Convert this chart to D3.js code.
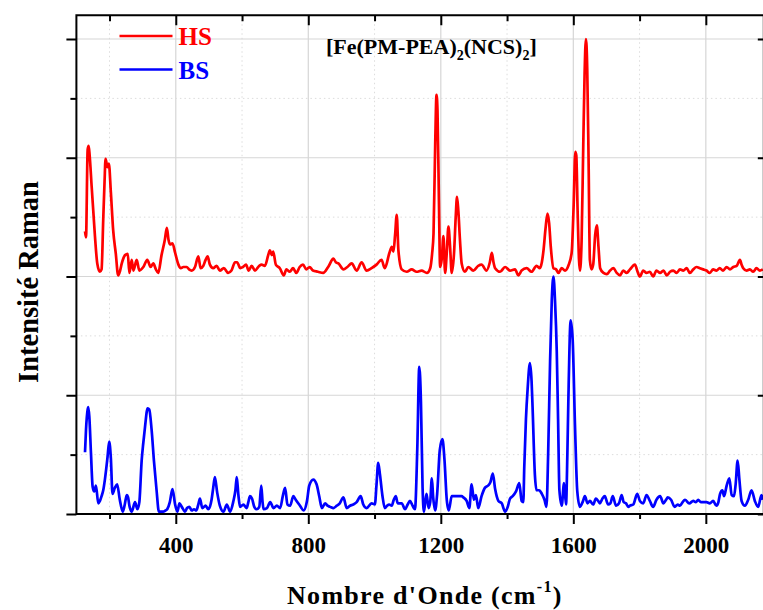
<!DOCTYPE html>
<html>
<head>
<meta charset="utf-8">
<script src="https://cdn.jsdelivr.net/npm/d3@7"></script>
<style>
  html, body { margin: 0; padding: 0; background: #fff; }
  svg { display: block; font-family: "Liberation Serif", "Times New Roman", serif; }
</style>
</head>
<body>
<svg id="chart" width="763" height="610"></svg>
<script>
// ---------------- data ----------------
const hsWave = [126,129,134,137,140,146,151,156,163,171,176,181,185,188,194,198,204,211,219,226,232,237,247,255,260,267,272,282,290,302,314,324,332,340,347,357,367,373,378,383,390,398,408,415,423,433,440,448,458,468,475,483,490,496,503,513,523,533,545,558,568,579,585,595,603,612,620,629,639,652,659,669,679,684,690,694,702,714,726,734,744,754,764,774,784,794,804,814,829,845,860,876,883,891,906,918,931,946,961,976,991,1006,1021,1031,1045,1052,1057,1062,1067,1072,1082,1097,1112,1127,1142,1158,1168,1174,1178,1183,1187,1190,1194,1198,1203,1208,1213,1218,1223,1228,1233,1240,1245,1249,1253,1258,1263,1273,1283,1298,1313,1323,1338,1348,1354,1359,1364,1379,1394,1409,1424,1434,1444,1459,1474,1489,1499,1505,1510,1516,1522,1527,1532,1540,1548,1555,1565,1575,1585,1595,1601,1606,1609,1613,1617,1620,1625,1630,1634,1638,1642,1646,1650,1655,1660,1666,1671,1676,1681,1691,1701,1711,1721,1731,1741,1751,1761,1771,1786,1794,1801,1811,1821,1831,1841,1851,1862,1872,1882,1892,1902,1912,1922,1932,1942,1952,1962,1972,1982,1992,2002,2012,2022,2032,2042,2052,2063,2073,2083,2093,2103,2108,2113,2123,2133,2143,2153,2163,2172];
const hsInt = [2.38,2.33,3.07,3.10,3.02,2.76,2.55,2.34,2.11,2.04,2.06,2.48,2.80,2.99,2.92,2.95,2.71,2.39,2.19,2.01,2.05,2.11,2.18,2.19,2.03,2.14,2.05,2.14,2.05,2.08,2.14,2.08,2.11,2.06,2.03,2.18,2.31,2.41,2.31,2.27,2.28,2.20,2.10,2.07,2.08,2.08,2.06,2.05,2.08,2.17,2.07,2.09,2.14,2.17,2.10,2.07,2.09,2.05,2.07,2.03,2.05,2.12,2.12,2.07,2.08,2.10,2.05,2.09,2.05,2.09,2.10,2.09,2.18,2.22,2.18,2.21,2.10,2.07,2.01,2.06,2.04,2.07,2.03,2.08,2.10,2.06,2.08,2.05,2.04,2.03,2.08,2.15,2.12,2.11,2.06,2.08,2.11,2.05,2.12,2.05,2.07,2.10,2.14,2.07,2.20,2.25,2.21,2.35,2.52,2.22,2.06,2.04,2.06,2.04,2.05,2.03,2.07,2.20,2.36,3.10,3.53,3.40,2.70,2.08,2.15,2.34,2.03,2.20,2.42,2.25,2.03,2.20,2.50,2.67,2.55,2.30,2.11,2.04,2.08,2.05,2.09,2.10,2.05,2.12,2.20,2.12,2.07,2.04,2.08,2.05,2.06,2.01,2.05,2.07,2.04,2.09,2.07,2.12,2.22,2.40,2.53,2.45,2.25,2.07,2.06,2.03,2.07,2.05,2.09,2.20,2.60,3.05,3.02,2.55,2.15,2.05,2.30,3.10,3.70,4.00,3.75,3.00,2.14,2.06,2.10,2.35,2.43,2.25,2.07,2.03,2.02,2.05,2.07,2.03,2.01,2.05,2.03,2.06,2.10,2.04,2.00,2.05,2.03,2.04,2.00,2.05,2.03,2.05,2.01,2.04,2.05,2.03,2.06,2.05,2.07,2.03,2.06,2.08,2.07,2.06,2.05,2.03,2.06,2.05,2.07,2.05,2.08,2.06,2.08,2.09,2.14,2.10,2.07,2.05,2.06,2.04,2.07,2.05,2.06];

const bsWave = [126,129,134,136,139,144,149,154,159,166,171,176,181,186,190,194,199,204,209,216,223,231,240,246,252,256,260,267,277,284,290,297,302,307,315,320,327,334,342,349,356,362,369,374,382,390,398,405,411,418,428,434,441,448,455,462,468,473,480,490,498,508,513,518,525,533,544,554,564,574,580,584,589,594,604,614,619,624,630,637,644,652,658,662,665,675,685,695,705,715,723,730,737,745,755,762,775,786,796,803,815,825,833,841,851,858,866,876,886,895,906,916,926,936,946,958,966,976,991,1001,1006,1011,1016,1024,1031,1038,1044,1052,1058,1064,1070,1082,1092,1100,1107,1115,1122,1129,1135,1140,1145,1149,1153,1157,1163,1168,1173,1177,1183,1189,1197,1205,1211,1218,1224,1233,1243,1253,1263,1268,1278,1286,1293,1300,1306,1313,1323,1333,1343,1350,1357,1364,1374,1384,1394,1402,1409,1417,1427,1437,1444,1449,1452,1457,1462,1469,1474,1477,1484,1489,1497,1505,1513,1519,1524,1530,1535,1540,1545,1550,1554,1558,1565,1572,1578,1582,1585,1592,1598,1605,1612,1620,1628,1635,1643,1650,1660,1668,1675,1680,1688,1695,1705,1712,1719,1729,1738,1746,1752,1759,1766,1771,1781,1793,1801,1811,1821,1831,1841,1851,1862,1872,1880,1885,1895,1906,1915,1922,1930,1937,1950,1962,1970,1977,1985,1992,2002,2012,2022,2032,2038,2043,2050,2055,2063,2071,2078,2085,2090,2096,2101,2108,2118,2128,2138,2148,2158,2168,2172];
const bsInt = [0.52,0.71,0.88,0.90,0.82,0.51,0.23,0.19,0.24,0.09,0.11,0.15,0.20,0.29,0.38,0.48,0.61,0.47,0.17,0.22,0.25,0.12,0.02,0.08,0.16,0.14,0.07,0.02,0.10,0.04,0.10,0.45,0.60,0.73,0.89,0.88,0.71,0.45,0.20,0.02,0.02,0.02,0.03,0.04,0.10,0.21,0.08,0.02,0.09,0.06,0.02,0.05,0.06,0.03,0.04,0.03,0.08,0.13,0.05,0.07,0.04,0.12,0.22,0.31,0.18,0.07,0.02,0.08,0.02,0.11,0.20,0.31,0.16,0.06,0.08,0.05,0.10,0.15,0.13,0.06,0.04,0.06,0.24,0.10,0.04,0.05,0.10,0.05,0.07,0.05,0.15,0.22,0.08,0.07,0.15,0.12,0.07,0.03,0.11,0.24,0.29,0.25,0.15,0.05,0.09,0.07,0.06,0.05,0.07,0.09,0.14,0.05,0.07,0.08,0.10,0.15,0.08,0.05,0.09,0.08,0.25,0.43,0.34,0.15,0.05,0.07,0.08,0.07,0.12,0.15,0.09,0.09,0.04,0.08,0.11,0.07,0.04,0.55,1.24,0.95,0.22,0.02,0.10,0.17,0.05,0.10,0.30,0.14,0.03,0.17,0.54,0.63,0.46,0.12,0.03,0.15,0.15,0.15,0.15,0.14,0.11,0.05,0.25,0.12,0.16,0.05,0.15,0.22,0.24,0.27,0.34,0.21,0.11,0.09,0.02,0.06,0.13,0.15,0.19,0.26,0.11,0.10,0.40,0.80,1.05,1.27,1.12,0.90,0.33,0.20,0.20,0.17,0.12,0.06,0.50,1.30,1.80,2.00,1.78,1.37,0.80,0.20,0.07,0.26,0.08,0.50,0.95,1.63,1.47,0.75,0.19,0.06,0.10,0.15,0.09,0.11,0.08,0.13,0.11,0.09,0.13,0.15,0.08,0.09,0.15,0.07,0.09,0.16,0.10,0.09,0.06,0.07,0.08,0.17,0.11,0.09,0.16,0.11,0.06,0.12,0.15,0.09,0.12,0.14,0.12,0.06,0.08,0.07,0.10,0.12,0.09,0.11,0.10,0.12,0.10,0.10,0.10,0.09,0.11,0.07,0.10,0.17,0.20,0.15,0.24,0.30,0.16,0.15,0.25,0.45,0.30,0.11,0.07,0.12,0.20,0.11,0.06,0.16,0.12];

const xMajorTicks = [400, 800, 1200, 1600, 2000];
const xMinorTicks = [200, 600, 1000, 1400, 1800];
const yMajorTicks = [0, 1, 2, 3, 4];
const yMinorTicks = [0.5, 1.5, 2.5, 3.5];
const seriesNames = ["HS", "BS"];
const seriesColors = ["#ff0000", "#0000ff"];

// ---------------- layout ----------------
const svg = d3.select("#chart");
const L = 76.4, R = 763.8, T = 15.25, B = 514;
const x = d3.scaleLinear().domain([100, 2175]).range([L, R]);
const y = d3.scaleLinear().domain([0, 4.2]).range([B, T]);

svg.append("rect").attr("width", 763).attr("height", 610).attr("fill", "#fff");

// grid
const grid = svg.append("g");
grid.selectAll(".vmaj").data(xMajorTicks).enter().append("line")
  .attr("x1", d => x(d)).attr("x2", d => x(d)).attr("y1", T).attr("y2", B)
  .attr("stroke", "#d6d6d6").attr("stroke-width", 1.2);
grid.selectAll(".vmin").data(xMinorTicks).enter().append("line")
  .attr("x1", d => x(d)).attr("x2", d => x(d)).attr("y1", T).attr("y2", B)
  .attr("stroke", "#dcdcdc").attr("stroke-width", 1).attr("stroke-dasharray", "1.5,3");
grid.selectAll(".hmaj").data(yMajorTicks.filter(d => d > 0)).enter().append("line")
  .attr("y1", d => y(d)).attr("y2", d => y(d)).attr("x1", L).attr("x2", R)
  .attr("stroke", "#d6d6d6").attr("stroke-width", 1.2);
grid.selectAll(".hmin").data(yMinorTicks).enter().append("line")
  .attr("y1", d => y(d)).attr("y2", d => y(d)).attr("x1", L).attr("x2", R)
  .attr("stroke", "#dcdcdc").attr("stroke-width", 1).attr("stroke-dasharray", "1.5,3");

// clip
svg.append("clipPath").attr("id", "clip").append("rect")
  .attr("x", L).attr("y", T).attr("width", R - L).attr("height", B - T);

const line = d3.line().x(d => x(d[0])).y(d => y(d[1])).curve(d3.curveMonotoneX);
const hsData = hsWave.map((w, i) => [w, hsInt[i]]);
const bsData = bsWave.map((w, i) => [w, bsInt[i]]);

const plot = svg.append("g").attr("clip-path", "url(#clip)");
plot.append("path").datum(bsData).attr("d", line)
  .attr("fill", "none").attr("stroke", seriesColors[1]).attr("stroke-width", 2.7).attr("stroke-linejoin", "round");
plot.append("path").datum(hsData).attr("d", line)
  .attr("fill", "none").attr("stroke", seriesColors[0]).attr("stroke-width", 2.7).attr("stroke-linejoin", "round");

// axes
function styleAxis(g) {
  g.select(".domain").remove();
  g.selectAll(".tick line").attr("stroke", "#000").attr("stroke-width", 2);
}
const fmt = d3.format("d");
const xb = svg.append("g").attr("transform", `translate(0,${B})`)
  .call(d3.axisBottom(x).tickValues(xMajorTicks).tickSize(10).tickFormat(fmt));
styleAxis(xb);
xb.selectAll(".tick text").attr("y", 39).attr("dy", 0)
  .attr("font-size", 23).attr("font-weight", "bold").attr("fill", "#000")
  .attr("font-family", "'Liberation Serif', 'Times New Roman', serif");
const xbm = svg.append("g").attr("transform", `translate(0,${B})`)
  .call(d3.axisBottom(x).tickValues(xMinorTicks).tickSize(5).tickFormat(""));
styleAxis(xbm);

const xt = svg.append("g").attr("transform", `translate(0,${T})`)
  .call(d3.axisBottom(x).tickValues(xMajorTicks).tickSize(10).tickFormat(""));
styleAxis(xt);
const xtm = svg.append("g").attr("transform", `translate(0,${T})`)
  .call(d3.axisBottom(x).tickValues(xMinorTicks).tickSize(6).tickFormat(""));
styleAxis(xtm);

const yl = svg.append("g").attr("transform", `translate(${L},0)`)
  .call(d3.axisLeft(y).tickValues(yMajorTicks).tickSize(10).tickFormat(""));
styleAxis(yl);
const ylm = svg.append("g").attr("transform", `translate(${L},0)`)
  .call(d3.axisLeft(y).tickValues(yMinorTicks).tickSize(6).tickFormat(""));
styleAxis(ylm);
const yr = svg.append("g").attr("transform", `translate(${R},0)`)
  .call(d3.axisLeft(y).tickValues(yMajorTicks).tickSize(6).tickFormat(""));
styleAxis(yr);

// frame
svg.append("rect").attr("x", L).attr("y", T).attr("width", R - L).attr("height", B - T)
  .attr("fill", "none").attr("stroke", "#000").attr("stroke-width", 2);

// legend
const legY = [36, 69.5];
seriesNames.forEach((n, i) => {
  svg.append("line").attr("x1", 119.5).attr("x2", 172.5).attr("y1", legY[i]).attr("y2", legY[i])
    .attr("stroke", seriesColors[i]).attr("stroke-width", 2.6);
  svg.append("text").attr("x", 178.5).attr("y", legY[i] + 9)
    .attr("font-size", 25).attr("font-weight", "bold").attr("fill", seriesColors[i]).text(n);
});

// title
const title = svg.append("text").attr("x", 326).attr("y", 54)
  .attr("font-size", 22).attr("font-weight", "bold").attr("fill", "#000");
title.append("tspan").text("[Fe(PM-PEA)");
title.append("tspan").attr("font-size", 14).attr("dy", 6).text("2");
title.append("tspan").attr("dy", -6).text("(NCS)");
title.append("tspan").attr("font-size", 14).attr("dy", 6).text("2");
title.append("tspan").attr("dy", -6).text("]");

// axis titles
const xTitle = svg.append("text").attr("x", 287).attr("y", 604)
  .attr("font-size", 26).attr("font-weight", "bold").attr("fill", "#000")
  .attr("letter-spacing", 1.3);
xTitle.append("tspan").text("Nombre d'Onde (cm");
xTitle.append("tspan").attr("font-size", 16).attr("dy", -12).text("-1");
xTitle.append("tspan").attr("dy", 12).text(")");

svg.append("text").attr("transform", "translate(38,282) rotate(-90)")
  .attr("text-anchor", "middle").attr("font-size", 28.5).attr("font-weight", "bold")
  .attr("fill", "#000").text("Intensité Raman");
</script>
</body>
</html>
